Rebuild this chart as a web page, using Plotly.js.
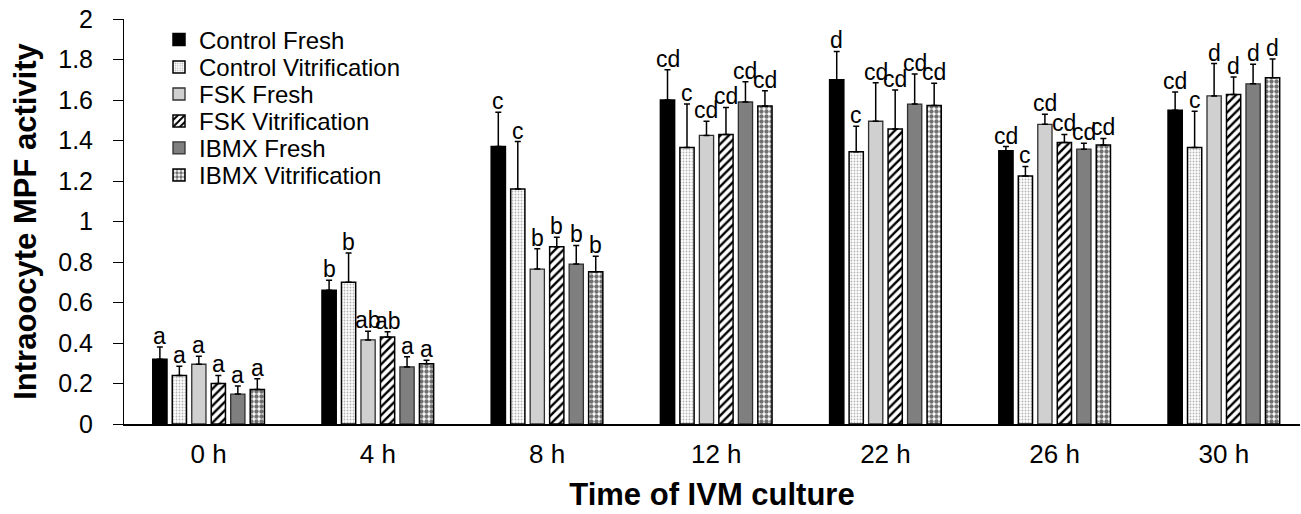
<!DOCTYPE html>
<html>
<head>
<meta charset="utf-8">
<script src="https://cdn.plot.ly/plotly-3.0.1.min.js"></script>
<style>html,body{margin:0;padding:0;background:#fff;}#chart{width:1301px;height:514px;}</style>
</head>
<body>
<div id="chart"></div>
<script>
const categories = ['0 h', '4 h', '8 h', '12 h', '22 h', '26 h', '30 h'];
const seriesNames = ['Control Fresh', 'Control Vitrification', 'FSK Fresh', 'FSK Vitrification', 'IBMX Fresh', 'IBMX Vitrification'];

const controlFresh = [0.32, 0.66, 1.37, 1.60, 1.70, 1.35, 1.55];
const controlFreshErr = [0.06, 0.05, 0.17, 0.15, 0.14, 0.02, 0.09];
const controlVit = [0.24, 0.70, 1.16, 1.365, 1.345, 1.225, 1.365];
const controlVitErr = [0.045, 0.145, 0.235, 0.215, 0.125, 0.047, 0.18];
const fskFresh = [0.295, 0.415, 0.765, 1.425, 1.495, 1.48, 1.62];
const fskFreshErr = [0.04, 0.043, 0.10, 0.07, 0.19, 0.05, 0.16];
const fskVit = [0.20, 0.43, 0.875, 1.43, 1.457, 1.39, 1.627];
const fskVitErr = [0.04, 0.026, 0.047, 0.133, 0.193, 0.04, 0.086];
const ibmxFresh = [0.148, 0.282, 0.79, 1.59, 1.58, 1.357, 1.68];
const ibmxFreshErr = [0.04, 0.05, 0.092, 0.10, 0.148, 0.03, 0.097];
const ibmxVit = [0.17, 0.297, 0.752, 1.57, 1.573, 1.378, 1.71];
const ibmxVitErr = [0.054, 0.018, 0.077, 0.076, 0.11, 0.032, 0.092];

const controlFreshLetters = ['a', 'b', 'c', 'cd', 'd', 'cd', 'cd'];
const controlVitLetters = ['a', 'b', 'c', 'c', 'c', 'c', 'c'];
const fskFreshLetters = ['a', 'ab', 'b', 'cd', 'cd', 'cd', 'd'];
const fskVitLetters = ['a', 'ab', 'b', 'cd', 'cd', 'cd', 'd'];
const ibmxFreshLetters = ['a', 'a', 'b', 'cd', 'cd', 'cd', 'd'];
const ibmxVitLetters = ['a', 'a', 'b', 'cd', 'cd', 'cd', 'd'];

const yTickVals = [0, 0.2, 0.4, 0.6, 0.8, 1, 1.2, 1.4, 1.6, 1.8, 2];
const yTickText = ['0', '0.2', '0.4', '0.6', '0.8', '1', '1.2', '1.4', '1.6', '1.8', '2'];

const FONT = 'Liberation Sans, Arial, sans-serif';
const values = [controlFresh, controlVit, fskFresh, fskVit, ibmxFresh, ibmxVit];
const errs = [controlFreshErr, controlVitErr, fskFreshErr, fskVitErr, ibmxFreshErr, ibmxVitErr];
const letters = [controlFreshLetters, controlVitLetters, fskFreshLetters, fskVitLetters, ibmxFreshLetters, ibmxVitLetters];

const markers = [
  {color: '#000000', line: {color: '#000000', width: 1.5}},
  {color: '#ffffff', line: {color: '#000000', width: 1.5}, pattern: {shape: '.', fgcolor: '#b4b4b4', bgcolor: '#ffffff', size: 3, solidity: 0.3}},
  {color: '#d0d0d0', line: {color: '#303030', width: 1.3}},
  {color: '#ffffff', line: {color: '#000000', width: 1.5}, pattern: {shape: '/', fgcolor: '#000000', bgcolor: '#ffffff', size: 6, solidity: 0.4}},
  {color: '#7f7f7f', line: {color: '#303030', width: 1.3}},
  {color: '#ffffff', line: {color: '#000000', width: 1.5}, pattern: {shape: '.', fgcolor: '#707070', bgcolor: '#ffffff', size: 5, solidity: 0.6}}
];

const bargap = 0.309;
const bargroupgap = 0.27;

// plot area geometry (pixels) used for legend placement
const plotTop = 19, plotBottom = 424.5, plotLeft = 124, plotRight = 1300;
const legendItemCenters = [40, 67.5, 94.5, 121.5, 148.5, 175.5];
const legendLeftPx = 159;

const traces = seriesNames.map((name, j) => ({
  type: 'bar',
  name: name,
  x: categories,
  y: values[j],
  marker: markers[j],
  legend: j === 0 ? 'legend' : 'legend' + (j + 1),
  error_y: {type: 'data', symmetric: false, array: errs[j], arrayminus: errs[j].map(() => 0), color: '#000000', thickness: 1.5, width: 3},
  hoverinfo: 'skip'
}));

const n = seriesNames.length;
const slot = (1 - bargap) / n;
const annotations = [];
for (let j = 0; j < n; j++) {
  for (let i = 0; i < categories.length; i++) {
    annotations.push({
      x: i + (j - (n - 1) / 2) * slot,
      y: values[j][i] + errs[j][i],
      xref: 'x', yref: 'y',
      text: letters[j][i],
      showarrow: false,
      xanchor: 'center', yanchor: 'bottom',
      yshift: -4,
      font: {family: FONT, size: 23, color: '#000000'}
    });
  }
}

const layout = {
  width: 1301, height: 514,
  margin: {l: plotLeft, r: 1301 - plotRight, t: plotTop, b: 514 - plotBottom, pad: 0},
  paper_bgcolor: '#ffffff', plot_bgcolor: '#ffffff',
  barmode: 'group', bargap: bargap, bargroupgap: bargroupgap,
  showlegend: true,
  xaxis: {
    type: 'category', range: [-0.5, 6.45],
    showline: true, linecolor: '#000000', linewidth: 1.5,
    ticks: '', showgrid: false, zeroline: false,
    tickfont: {family: FONT, size: 26, color: '#000000'},
    ticklabelstandoff: 6,
    title: {text: '<b>Time of IVM culture</b>', font: {family: FONT, size: 31, color: '#000000'}, standoff: 15}
  },
  yaxis: {
    range: [0, 2], tickvals: yTickVals, ticktext: yTickText,
    showline: true, linecolor: '#000000', linewidth: 1,
    ticks: 'outside', ticklen: 10, tickcolor: '#000000', tickwidth: 1,
    showgrid: false, zeroline: false,
    tickfont: {family: FONT, size: 25, color: '#000000'},
    ticklabelstandoff: 15,
    title: {text: '<b>Intraoocyte MPF activity</b>', font: {family: FONT, size: 31, color: '#000000'}, standoff: 12}
  },
  annotations: annotations
};

for (let j = 0; j < n; j++) {
  const key = j === 0 ? 'legend' : 'legend' + (j + 1);
  layout[key] = {
    x: (legendLeftPx - plotLeft) / (plotRight - plotLeft),
    y: (plotBottom - legendItemCenters[j]) / (plotBottom - plotTop),
    xanchor: 'left', yanchor: 'middle',
    bgcolor: 'rgba(0,0,0,0)', borderwidth: 0,
    font: {family: FONT, size: 24, color: '#000000'},
    itemwidth: 30
  };
}

Plotly.newPlot('chart', traces, layout, {staticPlot: true, displayModeBar: false});
</script>
</body>
</html>
